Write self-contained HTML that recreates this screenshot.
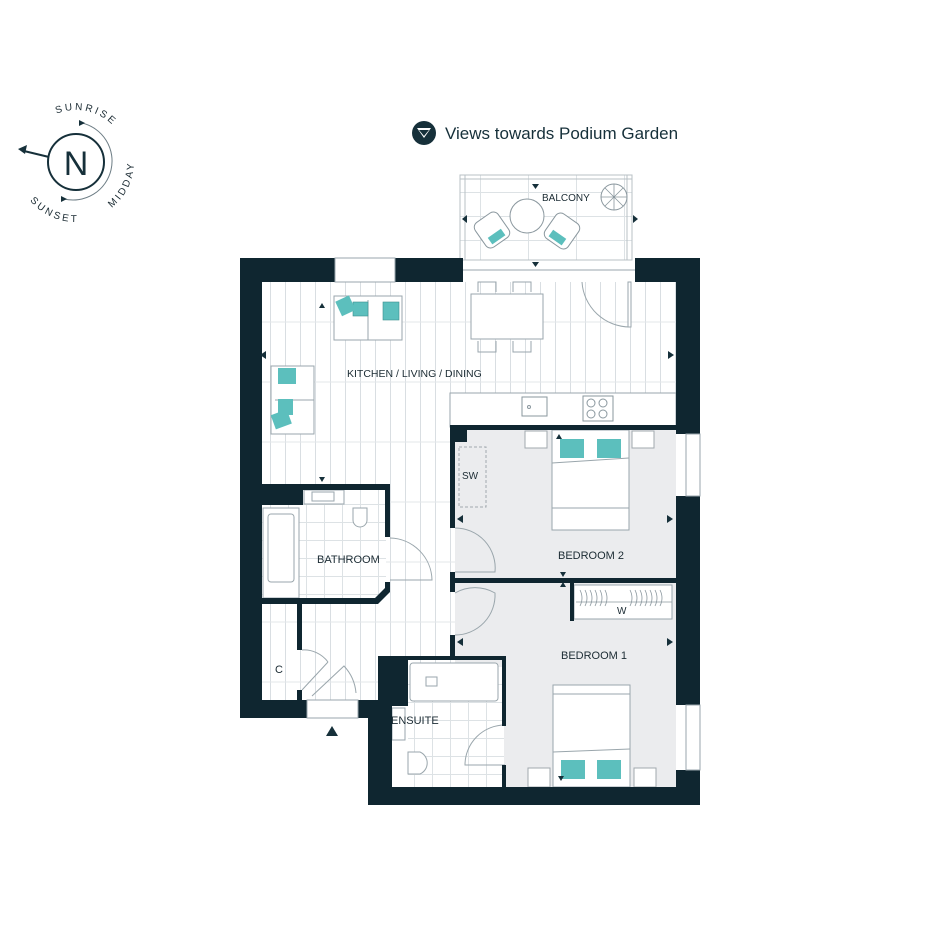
<!DOCTYPE html>
<html><head><meta charset="utf-8"><style>
html,body{margin:0;padding:0;background:#fff}
svg{display:block}
text{font-family:"Liberation Sans",sans-serif;fill:#1b2b33}
</style></head><body>
<svg width="945" height="945" viewBox="0 0 945 945" xmlns="http://www.w3.org/2000/svg">
<defs>
<pattern id="boards" width="15" height="60" patternUnits="userSpaceOnUse">
<rect width="15" height="60" fill="#fff"/>
<line x1="0.5" y1="0" x2="0.5" y2="60" stroke="#d9dee2" stroke-width="1"/>
<line x1="0" y1="22" x2="15" y2="22" stroke="#e3e7ea" stroke-width="1"/>
</pattern>
<pattern id="tiles" width="18" height="18" patternUnits="userSpaceOnUse">
<rect width="18" height="18" fill="#fff"/>
<path d="M0 0.5H18M0.5 0V18" stroke="#dde2e5" stroke-width="1"/>
</pattern>
<pattern id="btiles" width="48" height="24" patternUnits="userSpaceOnUse">
<rect width="48" height="24" fill="#fff"/>
<path d="M0 0.5H48M0.5 0V24" stroke="#dde2e5" stroke-width="1"/>
</pattern>
<path id="pRise" d="M 56.5 113.8 A 52 52 0 0 1 117 130"/>
<path id="pMid" d="M 111.7 207.7 A 58 58 0 0 0 132.3 148"/>
<path id="pSet" d="M 30 200.6 A 60 60 0 0 0 92.5 219.7"/>
</defs>

<!-- compass -->
<g>
<circle cx="76" cy="162" r="28" fill="none" stroke="#16303a" stroke-width="2"/>
<text x="76" y="175" text-anchor="middle" font-size="34" style="fill:#16303a">N</text>
<line x1="49" y1="157" x2="24" y2="151" stroke="#16303a" stroke-width="2"/>
<path d="M18 149 L27 145 L25 154 Z" fill="#16303a"/>
<path d="M82 123 A 39 39 0 0 1 64 199" fill="none" stroke="#6c7c84" stroke-width="1"/>
<path d="M79 120 L85 123 L79 126 Z" fill="#16303a"/>
<path d="M61 196 L67 199 L61 202 Z" fill="#16303a"/>
<text font-size="10" letter-spacing="2.5"><textPath href="#pRise">SUNRISE</textPath></text>
<text font-size="10" letter-spacing="2.5"><textPath href="#pMid">MIDDAY</textPath></text>
<text font-size="10" letter-spacing="2.5"><textPath href="#pSet">SUNSET</textPath></text>
</g>

<!-- views -->
<circle cx="424" cy="133" r="12" fill="#16303a"/>
<path d="M417 128 L431 128 L424 138 Z M419 130 L429 130 L424 136 Z" fill="#fff" fill-rule="evenodd"/>
<text x="445" y="139" font-size="17" style="fill:#16303a">Views towards Podium Garden</text>

<!-- balcony -->
<rect x="460" y="175" width="172" height="85" fill="url(#btiles)" stroke="#b8c0c5"/>
<line x1="465" y1="175" x2="465" y2="260" stroke="#b8c0c5"/>
<line x1="627" y1="175" x2="627" y2="260" stroke="#b8c0c5"/>
<line x1="460" y1="179" x2="632" y2="179" stroke="#b8c0c5"/>
<circle cx="527" cy="216" r="17" fill="#fff" stroke="#8a979e"/>
<g transform="rotate(-35 492 230)"><rect x="478" y="215" width="28" height="30" rx="6" fill="#fff" stroke="#8a979e"/><rect x="484" y="234" width="16" height="8" fill="#5cbfbd"/></g>
<g transform="rotate(35 562 231)"><rect x="548" y="216" width="28" height="30" rx="6" fill="#fff" stroke="#8a979e"/><rect x="554" y="235" width="16" height="8" fill="#5cbfbd"/></g>
<circle cx="614" cy="197" r="13" fill="#fff" stroke="#8a979e"/>
<path d="M601 197H627M614 184V210M605 188L623 206M623 188L605 206" stroke="#8a979e" stroke-width="0.8"/>
<text x="542" y="201" font-size="10">BALCONY</text>
<path d="M532 184 L539 184 L535.5 189Z M532 262 L539 262 L535.5 267Z M462 219 L467 215 L467 223Z M633 215 L638 219 L633 223Z" fill="#16303a"/>

<!-- floor areas -->
<rect x="262" y="282" width="414" height="420" fill="url(#boards)"/>
<rect x="455" y="430" width="221" height="357" fill="#ebecee"/>
<rect x="262" y="490" width="124" height="110" fill="url(#tiles)"/>
<rect x="408" y="667" width="96" height="120" fill="url(#tiles)"/>
<rect x="388" y="700" width="20" height="87" fill="#fff"/>

<!-- kitchen counter -->
<rect x="450" y="393" width="226" height="34" fill="#fff" stroke="#9aa6ac"/>
<rect x="522" y="397" width="25" height="19" fill="#fff" stroke="#8a979e"/>
<circle cx="529" cy="407" r="1.5" fill="none" stroke="#8a979e"/>
<rect x="583" y="396" width="30" height="25" fill="#fff" stroke="#8a979e"/>
<circle cx="591" cy="403" r="4" fill="none" stroke="#8a979e"/><circle cx="603" cy="403" r="4" fill="none" stroke="#8a979e"/>
<circle cx="591" cy="414" r="4" fill="none" stroke="#8a979e"/><circle cx="603" cy="414" r="4" fill="none" stroke="#8a979e"/>

<!-- living furniture -->
<rect x="334" y="296" width="68" height="44" fill="#fff" stroke="#9aa6ac"/>
<line x1="368" y1="300" x2="368" y2="340" stroke="#9aa6ac"/>
<rect x="353" y="302" width="15" height="14" fill="#5cbfbd" stroke="#3c8f8e" stroke-width="0.6"/>
<rect x="383" y="302" width="16" height="18" fill="#5cbfbd" stroke="#3c8f8e" stroke-width="0.6"/>
<rect x="338" y="298" width="15" height="16" fill="#5cbfbd" transform="rotate(-25 345 306)"/>
<rect x="271" y="366" width="43" height="68" fill="#fff" stroke="#9aa6ac"/>
<line x1="275" y1="400" x2="314" y2="400" stroke="#9aa6ac"/>
<rect x="278" y="368" width="18" height="16" fill="#5cbfbd"/>
<rect x="278" y="399" width="15" height="16" fill="#5cbfbd"/>
<rect x="273" y="412" width="17" height="15" fill="#5cbfbd" transform="rotate(-20 281 420)"/>
<rect x="471" y="294" width="72" height="45" fill="#fff" stroke="#9aa6ac"/>
<path d="M478 292 V282 H496 V292 M513 292 V282 H531 V292 M478 341 V352 H496 V341 M513 341 V352 H531 V341" fill="none" stroke="#9aa6ac"/>
<path d="M582 282 A 48 48 0 0 0 630 327 L630 282" fill="none" stroke="#9aa6ac"/>
<rect x="628" y="282" width="3" height="45" fill="#fff" stroke="#9aa6ac"/>

<!-- bedroom 2 furniture -->
<rect x="459" y="447" width="27" height="60" fill="none" stroke="#a0a8ad" stroke-dasharray="3,2"/>
<text x="462" y="479" font-size="10">SW</text>
<rect x="525" y="431" width="22" height="17" fill="#fff" stroke="#a0a8ad"/>
<rect x="632" y="431" width="22" height="17" fill="#fff" stroke="#a0a8ad"/>
<rect x="552" y="430" width="77" height="100" fill="#fff" stroke="#9aa6ac"/>
<rect x="560" y="439" width="24" height="19" fill="#5cbfbd"/>
<rect x="597" y="439" width="24" height="19" fill="#5cbfbd"/>
<path d="M552 463 L629 458" stroke="#9aa6ac" fill="none"/>
<line x1="552" y1="508" x2="629" y2="508" stroke="#9aa6ac"/>
<text x="558" y="559" font-size="11">BEDROOM 2</text>
<!-- wardrobe -->
<rect x="574" y="585" width="98" height="34" fill="#fff" stroke="#9aa6ac"/>
<g stroke="#8a979e" stroke-width="0.8" fill="none">
<path d="M580 590 q4 8 0 16 M585 590 q4 8 0 16 M590 590 q4 8 0 16 M595 590 q4 8 0 16 M600 590 q4 8 0 16 M605 590 q4 8 0 16 M630 590 q4 8 0 16 M635 590 q4 8 0 16 M640 590 q4 8 0 16 M645 590 q4 8 0 16 M650 590 q4 8 0 16 M655 590 q4 8 0 16 M660 590 q4 8 0 16"/>
<line x1="576" y1="602" x2="672" y2="602"/>
</g>
<text x="617" y="614" font-size="10">W</text>
<!-- bedroom 1 furniture -->
<text x="561" y="659" font-size="11">BEDROOM 1</text>
<rect x="553" y="685" width="77" height="102" fill="#fff" stroke="#9aa6ac"/>
<line x1="553" y1="694" x2="630" y2="694" stroke="#9aa6ac"/>
<path d="M553 752 L630 749" stroke="#9aa6ac"/>
<rect x="561" y="760" width="24" height="19" fill="#5cbfbd"/>
<rect x="597" y="760" width="24" height="19" fill="#5cbfbd"/>
<rect x="528" y="768" width="22" height="19" fill="#fff" stroke="#a0a8ad"/>
<rect x="634" y="768" width="22" height="19" fill="#fff" stroke="#a0a8ad"/>

<!-- bathroom -->
<rect x="263" y="508" width="36" height="90" fill="#fff" stroke="#9aa6ac"/>
<rect x="268" y="514" width="26" height="68" rx="3" fill="#fff" stroke="#9aa6ac"/>
<rect x="304" y="490" width="40" height="14" fill="#fff" stroke="#9aa6ac"/>
<rect x="312" y="492" width="22" height="9" fill="#fff" stroke="#9aa6ac"/>
<path d="M353 508 h14 v12 a7 7 0 0 1 -14 0z" fill="#fff" stroke="#9aa6ac"/>
<text x="317" y="563" font-size="11">BATHROOM</text>
<path d="M390 538 A 43 43 0 0 1 432 580 L390 580" fill="none" stroke="#9aa6ac"/>
<!-- ensuite -->
<rect x="410" y="663" width="88" height="38" rx="3" fill="#fff" stroke="#9aa6ac"/>
<rect x="426" y="677" width="11" height="9" fill="#fff" stroke="#9aa6ac"/>
<rect x="392" y="708" width="13" height="32" fill="#fff" stroke="#9aa6ac"/>
<path d="M408 752 h12 a12 12 0 0 1 0 22 h-12z" fill="#fff" stroke="#9aa6ac"/>
<text x="391" y="724" font-size="11">ENSUITE</text>
<path d="M505 725 A 40 40 0 0 0 465 765 L505 765" fill="none" stroke="#9aa6ac"/>
<!-- C -->
<text x="275" y="673" font-size="11">C</text>
<path d="M302 650 A 30 30 0 0 1 328 662 M302 690 L328 662 M356 693 A 45 45 0 0 0 344 666 L312 696" fill="none" stroke="#9aa6ac"/>
<!-- bedroom doors -->
<path d="M455 528 A 40 40 0 0 1 495 572 L455 572" fill="none" stroke="#9aa6ac"/>
<path d="M455 593 A 40 40 0 0 1 495 593 A 40 40 0 0 1 455 635" fill="none" stroke="#9aa6ac"/>

<!-- walls -->
<g fill="#0f2630">
<rect x="240" y="258" width="22" height="460"/>
<rect x="240" y="258" width="95" height="24"/>
<rect x="395" y="258" width="68" height="24"/>
<rect x="635" y="258" width="65" height="24"/>
<rect x="676" y="258" width="24" height="176"/>
<rect x="676" y="496" width="24" height="209"/>
<rect x="676" y="770" width="24" height="35"/>
<rect x="368" y="787" width="332" height="18"/>
<rect x="368" y="700" width="24" height="105"/>
<rect x="378" y="656" width="30" height="50"/>
<rect x="378" y="656" width="128" height="4"/>
<rect x="502" y="656" width="4" height="70"/>
<rect x="502" y="765" width="4" height="22"/>
<rect x="240" y="700" width="67" height="18"/>
<rect x="358" y="700" width="25" height="18"/>
<rect x="262" y="484" width="126" height="6"/>
<rect x="262" y="484" width="41" height="21"/>
<rect x="385" y="484" width="5" height="53"/>
<path d="M385 582 H390 V592 L378 604 H262 V598 H375 L385 588Z"/>
<rect x="297" y="604" width="5" height="46"/>
<rect x="297" y="690" width="5" height="12"/>
<rect x="450" y="425" width="226" height="5"/>
<rect x="450" y="425" width="17" height="17"/>
<rect x="450" y="425" width="5" height="103"/>
<rect x="450" y="572" width="5" height="20"/>
<rect x="450" y="635" width="5" height="22"/>
<rect x="450" y="578" width="226" height="5"/>
<rect x="570" y="583" width="4" height="38"/>
</g>
<!-- windows -->
<g fill="#fff" stroke="#9aa6ac">
<rect x="335" y="258" width="60" height="24"/>
<rect x="686" y="434" width="14" height="62"/>
<rect x="686" y="705" width="14" height="65"/>
<rect x="307" y="700" width="51" height="18"/>
</g>
<line x1="463" y1="270" x2="635" y2="270" stroke="#9aa6ac"/>
<!-- markers -->
<g fill="#16303a">
<path d="M326 736 L338 736 L332 726 Z"/>
<path d="M260 355 L266 351 L266 359Z M668 351 L674 355 L668 359Z M319 308 L325 308 L322 303Z M319 477 L325 477 L322 482Z"/>
<path d="M556 439 L562 439 L559 434Z M457 519 L463 515 L463 523Z M667 515 L673 519 L667 523Z M560 572 L566 572 L563 577Z M560 587 L566 587 L563 582Z"/>
<path d="M457 642 L463 638 L463 646Z M667 638 L673 642 L667 646Z M558 776 L564 776 L561 781Z"/>
</g>
<text x="347" y="377" font-size="10.5">KITCHEN / LIVING / DINING</text>
</svg>
</body></html>
